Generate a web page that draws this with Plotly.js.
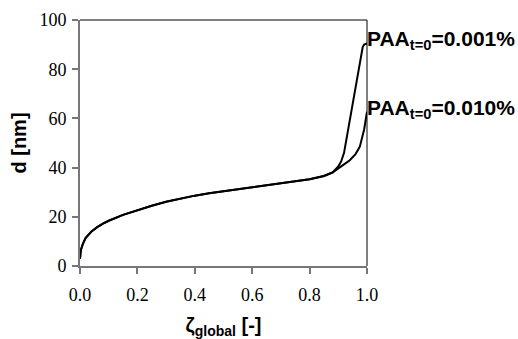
<!DOCTYPE html>
<html>
<head>
<meta charset="utf-8">
<script src="https://cdn.plot.ly/plotly-3.0.1.min.js"></script>
<style>html,body{margin:0;padding:0;background:#fff;}#chart{width:518px;height:339px;}</style>
</head>
<body>
<div id="chart"></div>
<script>
var zeta = [0, 0.003, 0.01, 0.02, 0.04, 0.06, 0.08, 0.1, 0.15, 0.2, 0.25, 0.3, 0.35, 0.4, 0.45, 0.5, 0.55, 0.6, 0.65, 0.7, 0.75, 0.8, 0.85, 0.88, 0.9, 0.91, 0.92, 0.94, 0.96, 0.975, 0.985, 0.99, 1.0];
var d_001 = [3, 6.5, 9, 11.5, 14, 15.8, 17.2, 18.4, 20.8, 22.7, 24.5, 26.1, 27.5, 28.6, 29.6, 30.4, 31.3, 32.2, 33, 33.7, 34.5, 35.3, 36.6, 38, 40.5, 42.5, 46, 59, 72.5, 82.5, 89, 90, 90.5];
var d_010 = [3, 6.5, 9, 11.5, 14, 15.8, 17.2, 18.4, 20.8, 22.7, 24.5, 26.1, 27.5, 28.6, 29.6, 30.4, 31.3, 32.2, 33, 33.7, 34.5, 35.3, 36.6, 38, 39.7, 40.4, 41.3, 43, 45.5, 48.5, 53, 55.5, 62.7];
var labels = ["PAA<sub>t=0</sub>=0.001%", "PAA<sub>t=0</sub>=0.010%"];
var xTicks = [0, 0.2, 0.4, 0.6, 0.8, 1.0];
var xTickText = ["0.0", "0.2", "0.4", "0.6", "0.8", "1.0"];
var yTicks = [0, 20, 40, 60, 80, 100];
var yTickText = ["0", "20", "40", "60", "80", "100"];

var sans = "Liberation Sans";
var serif = "Liberation Serif";
var labFont = {family: sans, size: 21, color: "#000"};
var tickFont = {family: serif, size: 18, color: "#000"};

var traces = [
  {x: zeta, y: d_001, mode: "lines", line: {color: "#000", width: 2}, hoverinfo: "skip"},
  {x: zeta, y: d_010, mode: "lines", line: {color: "#000", width: 2}, hoverinfo: "skip"}
];

var layout = {
  width: 518, height: 339,
  margin: {l: 80, r: 151, t: 20, b: 73},
  showlegend: false,
  font: {family: serif, size: 18, color: "#000"},
  paper_bgcolor: "#fff", plot_bgcolor: "#fff",
  xaxis: {
    range: [0, 1], tickvals: xTicks, ticktext: xTickText,
    showgrid: false, zeroline: false, showline: true, linecolor: "#777", linewidth: 2,
    ticks: "outside", ticklen: 6, tickwidth: 2, tickcolor: "#777",
    ticklabelstandoff: 5,
    tickfont: tickFont,
    title: {text: "<b>ζ<sub>global</sub> [-]</b>", font: {family: sans, size: 20, color: "#000"}, standoff: 14}
  },
  yaxis: {
    range: [0, 100], tickvals: yTicks, ticktext: yTickText,
    showgrid: false, zeroline: false, showline: true, linecolor: "#777", linewidth: 2,
    ticks: "outside", ticklen: 6, tickwidth: 2, tickcolor: "#777",
    ticklabelstandoff: 2,
    tickfont: tickFont,
    title: {text: "<b>d [nm]</b>", font: {family: sans, size: 20, color: "#000"}, standoff: 7}
  },
  shapes: [
    {type: "line", xref: "paper", yref: "paper", x0: 0, x1: 1, y0: 1, y1: 1, line: {color: "#000", width: 1}},
    {type: "line", xref: "paper", yref: "paper", x0: 1, x1: 1, y0: 0, y1: 1, line: {color: "#000", width: 1}}
  ],
  annotations: [
    {x: zeta[zeta.length-1], y: d_001[d_001.length-1], xref: "x", yref: "y", xanchor: "left", yanchor: "middle", yshift: 3, xshift: -2, showarrow: false, text: "<b>" + labels[0] + "</b>", font: labFont},
    {x: zeta[zeta.length-1], y: d_010[d_010.length-1], xref: "x", yref: "y", xanchor: "left", yanchor: "middle", yshift: 3, xshift: -2, showarrow: false, text: "<b>" + labels[1] + "</b>", font: labFont}
  ]
};

Plotly.newPlot("chart", traces, layout, {displayModeBar: false, staticPlot: true});
</script>
</body>
</html>
